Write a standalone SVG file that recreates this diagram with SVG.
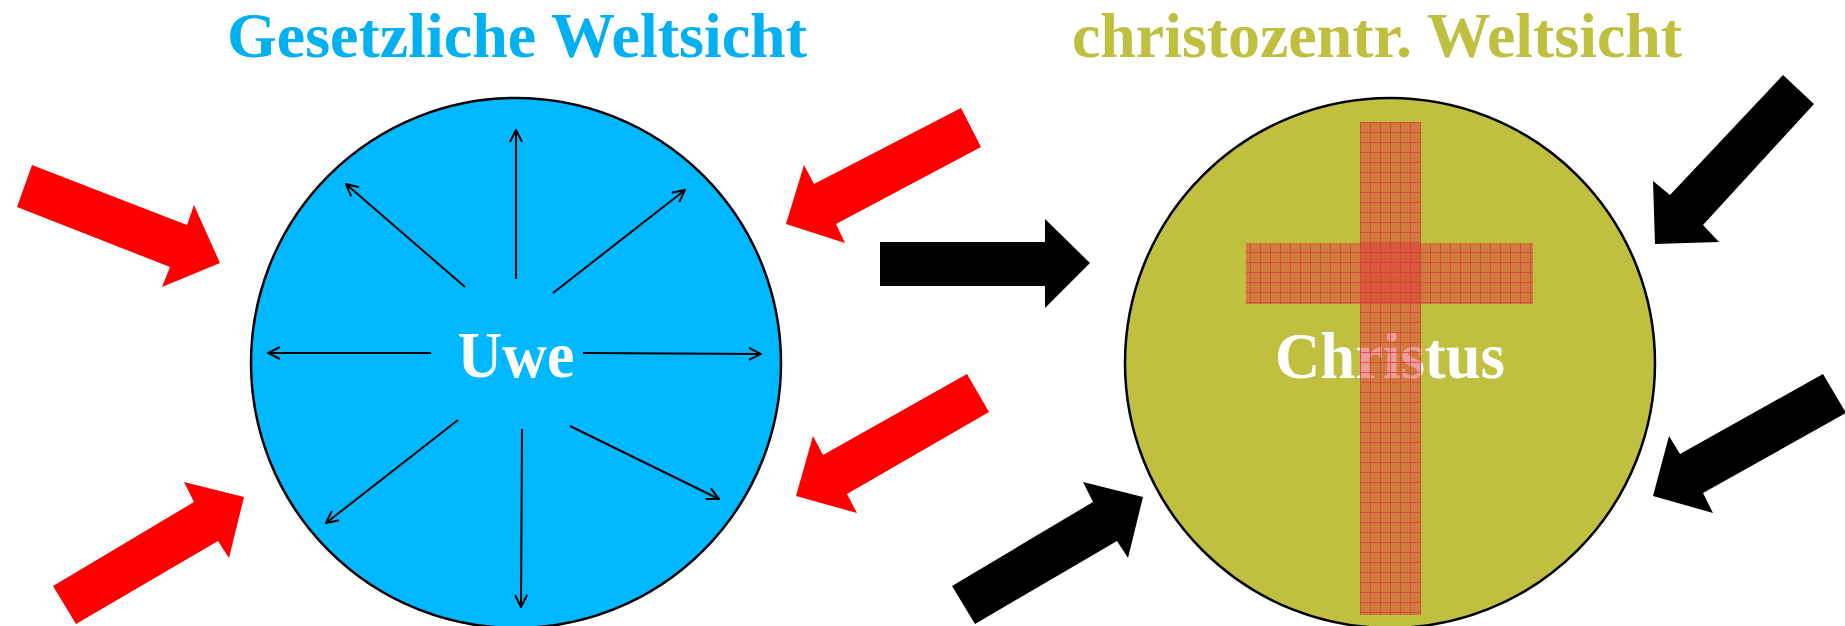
<svg xmlns="http://www.w3.org/2000/svg" width="1845" height="626" viewBox="0 0 1845 626">
<style>
.title{font-family:"Liberation Serif","Times New Roman",serif;font-weight:bold;font-size:64px}
.label{font-family:"Liberation Serif","Times New Roman",serif;font-weight:bold;font-size:66px;fill:#fff;text-anchor:middle}
.ray{stroke:#000;stroke-width:2;fill:none;marker-end:url(#open)}
.red{fill:#ff0000}
.blk{fill:#000}
.circ{stroke:#000;stroke-width:2.5}
</style>
<defs>
<marker id="open" viewBox="0 0 14 14" refX="13" refY="7" markerWidth="14" markerHeight="14" markerUnits="userSpaceOnUse" orient="auto">
<polyline points="1,1 13,7 1,13" fill="none" stroke="#000" stroke-width="2"/>
</marker>
<pattern id="grid" patternUnits="userSpaceOnUse" x="1360" y="122" width="10" height="10">
<rect width="10" height="10" fill="#e03a3a" fill-opacity="0.5"/>
<path d="M0 0.5H10M0.5 0V10" stroke="#d84040" stroke-opacity="0.8" stroke-width="1"/>
</pattern>
</defs>
<rect width="1845" height="626" fill="#fff"/>
<g id="title-left"><text class="title" x="517" y="57" fill="#00b0f0" text-anchor="middle" textLength="580" lengthAdjust="spacingAndGlyphs">Gesetzliche Weltsicht</text></g>
<g id="title-right"><text class="title" x="1377" y="57" fill="#bfbf40" text-anchor="middle" textLength="610" lengthAdjust="spacingAndGlyphs">christozentr. Weltsicht</text></g>
<g id="node-uwe">
<circle class="circ" cx="516" cy="363" r="265" fill="#00b8ff"/>
<text class="label" x="516" y="377" textLength="117" lengthAdjust="spacingAndGlyphs">Uwe</text>
</g>
<g id="node-christus">
<circle class="circ" cx="1390" cy="363" r="265" fill="#bfbf40"/>
<text class="label" x="1390" y="378" textLength="230" lengthAdjust="spacingAndGlyphs">Christus</text>
<rect x="1360" y="122" width="61" height="493" fill="url(#grid)"/>
<rect x="1246" y="243" width="287" height="61" fill="url(#grid)"/>
</g>
<g id="connectors">
<line class="ray" x1="516" y1="279" x2="516" y2="130"/>
<line class="ray" x1="465" y1="287" x2="346" y2="184"/>
<line class="ray" x1="553" y1="293" x2="685" y2="190"/>
<line class="ray" x1="431" y1="353" x2="268" y2="353"/>
<line class="ray" x1="583" y1="353" x2="761" y2="354"/>
<line class="ray" x1="458" y1="420" x2="326" y2="523"/>
<line class="ray" x1="522" y1="429" x2="521" y2="607"/>
<line class="ray" x1="570" y1="426" x2="719" y2="499"/>
<polygon class="red" points="32,165 187,225 194,205 220,263 162,287 170,267 17,207"/>
<polygon class="red" points="53,586 194,502 184,482 244,497 229,558 218,541 76,624"/>
<polygon class="red" points="961,108 814,184 804,165 786,224 845,243 836,224 981,147"/>
<polygon class="red" points="967,374 823,455 813,436 796,496 857,513 847,494 989,412"/>
<polygon class="blk" points="880,242 1045,242 1045,219 1090,263 1045,308 1045,286 880,286"/>
<polygon class="blk" points="1783,75 1814,104 1703,225 1719,242 1655,244 1653,181 1670,195"/>
<polygon class="blk" points="1823,374 1846,413 1703,493 1713,513 1653,496 1669,436 1680,454"/>
<polygon class="blk" points="952,586 1093,502 1083,482 1143,497 1128,558 1117,541 975,624"/>
</g>
</svg>
